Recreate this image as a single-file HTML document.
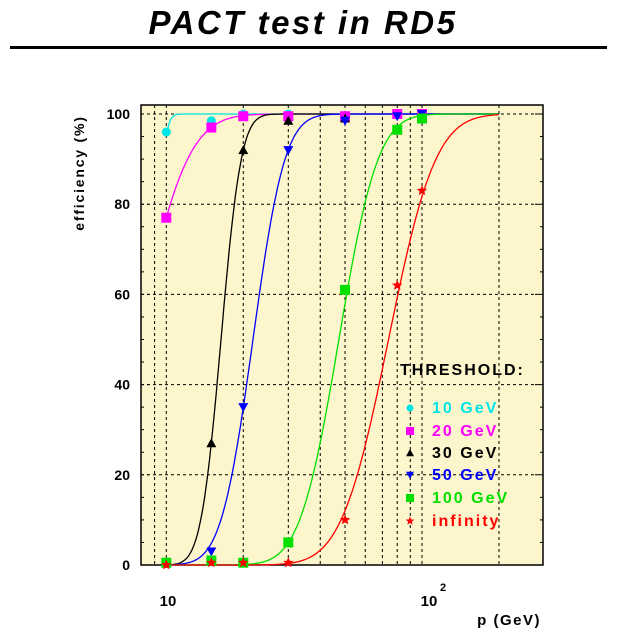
<!DOCTYPE html>
<html><head><meta charset="utf-8"><style>
body{margin:0;background:#fff;}
svg{display:block;font-family:"Liberation Sans",Arial,sans-serif;font-weight:bold;}
</style></head><body>
<svg id="s" width="617" height="637" viewBox="0 0 617 637" xmlns="http://www.w3.org/2000/svg">
<text x="303" y="34" text-anchor="middle" font-size="33" font-style="italic" letter-spacing="2.5">PACT test in RD5</text>
<rect x="10" y="46" width="597" height="3" fill="#000"/>
<rect x="141" y="105" width="402" height="460" fill="#fdf5cb" stroke="#000" stroke-width="1.5"/>
<g id="grid" stroke="#000" stroke-width="1" stroke-dasharray="3,3"></g>
<g id="curves" fill="none" stroke-width="1.3"></g>
<g id="marks"></g>
<g font-size="14" text-anchor="end" id="ylab"></g>
<text transform="translate(84,173) rotate(-90)" text-anchor="middle" font-size="14" letter-spacing="1.8">efficiency (%)</text>
<text x="168" y="606" text-anchor="middle" font-size="15">10</text>
<text x="429" y="606" text-anchor="middle" font-size="15">10</text>
<text x="440" y="591" font-size="11">2</text>
<text x="541" y="625" text-anchor="end" font-size="15" letter-spacing="1.5">p (GeV)</text>
<g font-size="16" letter-spacing="2">
<text x="400" y="375">THRESHOLD:</text>
<text x="432" y="413" fill="#00e5e5">10 GeV</text>
<text x="432" y="436" fill="#ff00ff">20 GeV</text>
<text x="432" y="458" fill="#000">30 GeV</text>
<text x="432" y="480" fill="#0000ff">50 GeV</text>
<text x="432" y="503" fill="#00e000">100 GeV</text>
<text x="432" y="526" fill="#ff0000">infinity</text>
</g>
<g id="leg"></g>
</svg>
<script>
var NS="http://www.w3.org/2000/svg",s=document.getElementById('s');
function X(p){return 166.3+(Math.log10(p)-1)*255.7;}
function Y(v){return 565-v*4.51;}
function el(t,a,par){var e=document.createElementNS(NS,t);for(var k in a)e.setAttribute(k,a[k]);document.getElementById(par).appendChild(e);return e;}
[9,10,20,30,40,50,60,70,80,90,100,200].forEach(function(p){var x=X(p);el('line',{x1:x,x2:x,y1:105,y2:565},'grid');});
[20,40,60,80,100].forEach(function(v){el('line',{x1:141,x2:543,y1:Y(v),y2:Y(v)},'grid');});
for(var v=0;v<=100;v+=5){var y=Y(v),L=v%20==0?8:4;el('line',{x1:141,x2:141+L,y1:y,y2:y,stroke:'#000'},'grid').removeAttribute('stroke-dasharray');el('line',{x1:543,x2:543-L,y1:y,y2:y,stroke:'#000'},'grid');}
for(var v=0;v<=100;v+=20){var t=el('text',{x:130,y:Y(v)+5},'ylab');t.textContent=v;}
function erf(x){var t=1/(1+0.3275911*Math.abs(x));var y=1-(((((1.061405429*t-1.453152027)*t)+1.421413741)*t-0.284496736)*t+0.254829592)*t*Math.exp(-x*x);return x>=0?y:-y;}
function cdf(z){return 0.5*(1+erf(z/Math.SQRT2));}
var C=[['#00e5e5',0.95,0.03],['#ff00ff',0.886,0.154],['#000',1.214,0.062],['#0000ff',1.339,0.098],['#00e000',1.675,0.12],['#ff0000',1.869,0.145]];
C.forEach(function(c){var d='';for(var l=1;l<=2.3001;l+=0.005){var v=100*cdf((l-c[1])/c[2]);d+=(d?'L':'M')+X(Math.pow(10,l)).toFixed(1)+','+Y(v).toFixed(1);}el('path',{d:d,stroke:c[0]},'curves');});
function mk(type,col,x,y,r,par){
 if(type=='c')el('circle',{cx:x,cy:y,r:r,fill:col},par);
 else if(type=='s')el('rect',{x:x-r,y:y-r,width:2*r,height:2*r,fill:col},par);
 else if(type=='t')el('polygon',{points:(x)+','+(y-r)+' '+(x-r)+','+(y+r*0.8)+' '+(x+r)+','+(y+r*0.8),fill:col},par);
 else if(type=='v')el('polygon',{points:(x)+','+(y+r)+' '+(x-r)+','+(y-r*0.8)+' '+(x+r)+','+(y-r*0.8),fill:col},par);
 else {var p='';for(var i=0;i<10;i++){var a=-Math.PI/2+i*Math.PI/5,rr=i%2?r*0.45:r;p+=(x+rr*Math.cos(a)).toFixed(1)+','+(y+rr*Math.sin(a)).toFixed(1)+' ';}el('polygon',{points:p,fill:col},par);}
}
var P=[
['c','#00e5e5',4.5,[[10,96],[15,98.5],[20,100],[30,100],[50,99.5],[80,100],[100,100]]],
['s','#ff00ff',5,[[10,77],[15,97],[20,99.5],[30,99.5],[50,99.5],[80,100],[100,100]]],
['t','#000',5,[[15,27],[20,92],[30,98.5],[50,99]]],
['v','#0000ff',5,[[15,3],[20,35],[30,92],[50,98.5],[80,99.5],[100,100]]],
['s','#00e000',5,[[10,0.5],[15,1],[20,0.5],[30,5],[50,61],[80,96.5],[100,99]]],
['*','#ff0000',5.5,[[10,0],[15,0.5],[20,0.5],[30,0.5],[50,10],[80,62],[100,83]]]];
P.forEach(function(q){q[3].forEach(function(pt){mk(q[0],q[1],X(pt[0]),Y(pt[1]),q[2],'marks');});});
var ly=[408,431,453,475,498,521];
P.forEach(function(q,i){mk(q[0],q[1],410,ly[i],q[2]-1,'leg');});
</script>
</body></html>
